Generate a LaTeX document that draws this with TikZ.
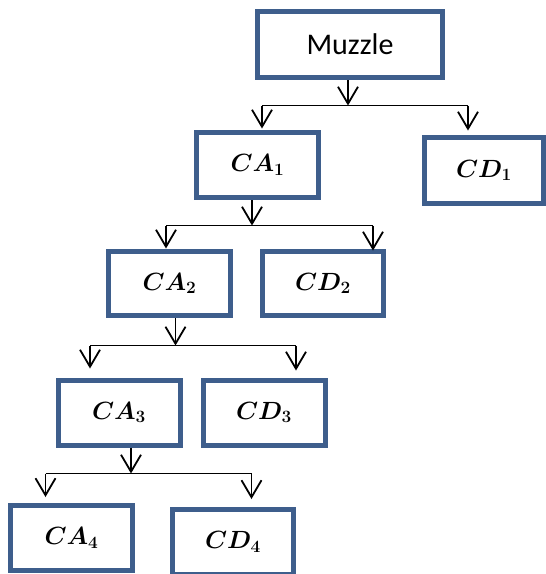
\documentclass[tikz,border=0pt]{standalone}
\usepackage{fontspec}
\usepackage{amsmath}
\newfontfamily\calib{Carlito}
\usetikzlibrary{arrows.meta}
\definecolor{boxblue}{RGB}{62,94,140}
\newcommand{\lbl}[2]{$#1_{\mathbf{#2}}$}
\tikzset{
  x=1pt,y=-1pt,
  blk/.style={draw=boxblue,line width=5pt,fill=white,minimum width=#1,inner sep=0pt,font=\fontsize{23}{26}\selectfont\boldmath},
  blk/.default=122pt,
  conn/.style={line width=1.8pt,black},
  arr/.style={conn,-{Straight Barb[length=17pt,width=20pt,line width=1.8pt]}}
}
\begin{document}
\begin{tikzpicture}
\useasboundingbox (0,0) rectangle (546,574);
% boxes
\node[blk=185pt,minimum height=66pt,font=\calib\fontsize{30}{34}\selectfont] (muz) at (350,44.5) {Muzzle};
\node[blk,minimum height=65pt] (ca1) at (257.5,165) {\lbl{CA}{1}};
\node[blk=119.5pt,minimum height=66pt] (cd1) at (484,170.5) {\lbl{CD}{1}};
\node[blk=121.5pt,minimum height=64pt] (ca2) at (169.5,283.5) {\lbl{CA}{2}};
\node[blk=121.5pt,minimum height=64pt] (cd2) at (323,283.5) {\lbl{CD}{2}};
\node[blk,minimum height=65pt] (ca3) at (119,412.5) {\lbl{CA}{3}};
\node[blk,minimum height=65pt] (cd3) at (264,412.5) {\lbl{CD}{3}};
\node[blk,minimum height=65pt] (ca4) at (71.5,538) {\lbl{CA}{4}};
\node[blk=121.5pt,minimum height=65pt] (cd4) at (233,542) {\lbl{CD}{4}};
% level 1
\coordinate (j1) at (348,105.5);
\coordinate (l1) at (262,105.5);
\coordinate (r1) at (468,105.5);
\draw[arr] (muz.south -| j1) -- (j1);
\draw[conn] (l1) -- (r1);
\draw[arr] (l1) -- ([yshift=1.5pt]ca1.north -| l1);
\draw[arr] (r1) -- ([yshift=4.5pt]cd1.north -| r1);
% level 2
\coordinate (j2) at (252,225.5);
\coordinate (l2) at (166,225.5);
\coordinate (r2) at (373,225.5);
\draw[arr] (ca1.south -| j2) -- (j2);
\draw[conn] (l2) -- (r2);
\draw[arr] (l2) -- ([yshift=0.5pt]ca2.north -| l2);
\draw[arr] (r2) -- ([yshift=-1.5pt]cd2.north -| r2);
% level 3
\coordinate (j3) at (175.5,345.5);
\coordinate (l3) at (90,345.5);
\coordinate (r3) at (296,345.5);
\draw[arr] (ca2.south -| j3) -- (j3);
\draw[conn] (l3) -- (r3);
\draw[arr] (l3) -- ([yshift=9pt]ca3.north -| l3);
\draw[arr] (r3) -- ([yshift=7pt]cd3.north -| r3);
% level 4
\coordinate (j4) at (131,473.5);
\coordinate (l4) at (45.5,473.5);
\coordinate (r4) at (251.5,473.5);
\draw[arr] (ca3.south -| j4) -- (j4);
\draw[conn] (l4) -- (r4);
\draw[arr] (l4) -- ([yshift=6pt]ca4.north -| l4);
\draw[arr] (r4) -- ([yshift=8pt]cd4.north -| r4);
\end{tikzpicture}
\end{document}
